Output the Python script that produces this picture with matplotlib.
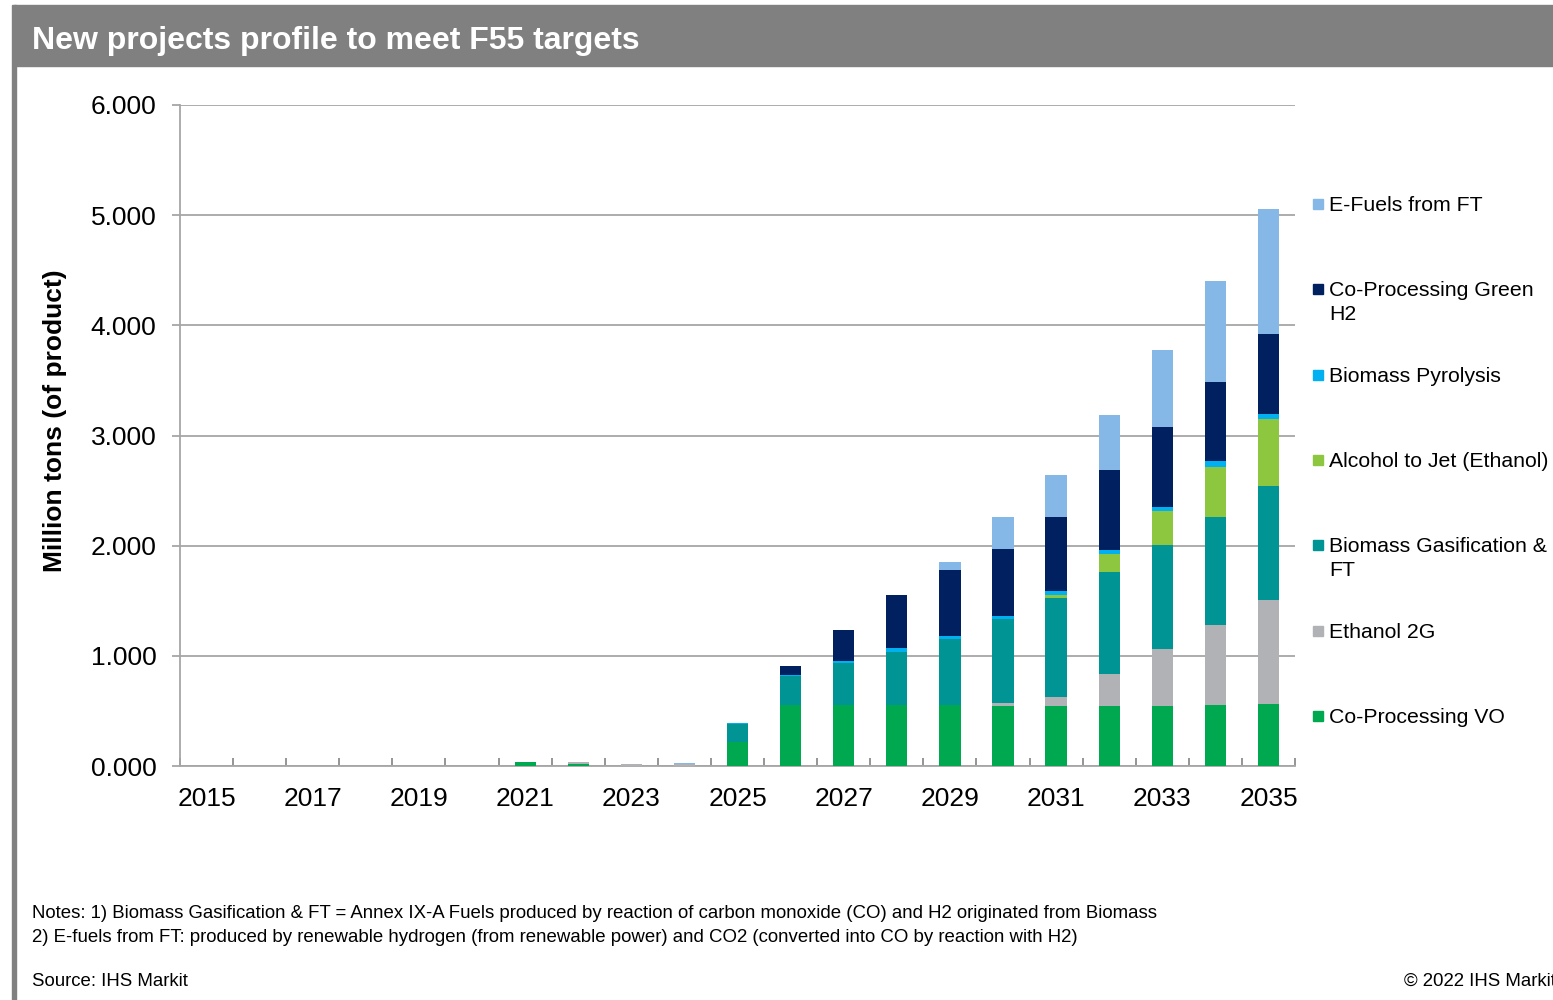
import numpy as np
import matplotlib.pyplot as plt
from matplotlib.patches import Rectangle

plt.rcParams['font.family'] = ['Liberation Sans', 'DejaVu Sans']

years = list(range(2015, 2036))
tick_labels = [str(y) if y % 2 == 1 else '' for y in years]

# Million tons of product, per year 2015..2035
co_processing_vo = [0, 0, 0, 0, 0, 0, 0.034, 0.021, 0, 0, 0.222, 0.551, 0.550, 0.550, 0.550,
                    0.548, 0.548, 0.548, 0.548, 0.554, 0.560]
ethanol_2g = [0, 0, 0, 0, 0, 0, 0, 0.013, 0.022, 0.020, 0, 0, 0, 0, 0,
              0.025, 0.080, 0.287, 0.511, 0.726, 0.947]
biomass_gasification_ft = [0, 0, 0, 0, 0, 0, 0, 0, 0, 0, 0.160, 0.266, 0.382, 0.488, 0.600,
                           0.765, 0.900, 0.926, 0.947, 0.983, 1.037]
alcohol_to_jet = [0, 0, 0, 0, 0, 0, 0, 0, 0, 0, 0, 0, 0, 0, 0,
                  0, 0.024, 0.163, 0.309, 0.454, 0.603]
biomass_pyrolysis = [0, 0, 0, 0, 0, 0, 0, 0, 0, 0, 0.005, 0.012, 0.020, 0.030, 0.027,
                     0.024, 0.036, 0.036, 0.039, 0.051, 0.048]
co_processing_green_h2 = [0, 0, 0, 0, 0, 0, 0, 0, 0, 0, 0, 0.079, 0.280, 0.487, 0.602,
                          0.609, 0.675, 0.726, 0.726, 0.722, 0.729]
e_fuels_ft = [0, 0, 0, 0, 0, 0, 0, 0, 0, 0.006, 0, 0, 0, 0, 0.073,
              0.290, 0.375, 0.500, 0.693, 0.910, 1.132]

series_names = ['Co-Processing VO', 'Ethanol 2G', 'Biomass Gasification &\nFT',
                'Alcohol to Jet (Ethanol)', 'Biomass Pyrolysis',
                'Co-Processing Green\nH2', 'E-Fuels from FT']
series_values = [co_processing_vo, ethanol_2g, biomass_gasification_ft, alcohol_to_jet,
                 biomass_pyrolysis, co_processing_green_h2, e_fuels_ft]
series_colors = ['#00a84f', '#b1b2b5', '#009494', '#8dc63f', '#00b0f0', '#002060', '#85b8e6']

fig = plt.figure(figsize=(15.53, 10), dpi=100)
fig.patch.set_facecolor('white')

# header band and left rule
fig.add_artist(Rectangle((14 / 1553, 1 - 66 / 1000), 1, 61 / 1000,
                         transform=fig.transFigure, color='#7f807f', zorder=0))
fig.add_artist(Rectangle((12 / 1553, 0), 4 / 1553, 1 - 5 / 1000,
                         transform=fig.transFigure, color='#7f807f', zorder=0))
fig.text(32 / 1553, 1 - 41 / 1000, 'New projects profile to meet F55 targets',
         color='white', fontsize=23, fontweight='bold', va='center', ha='left')

ax = fig.add_axes([180 / 1553, 1 - 766 / 1000, (1295 - 180) / 1553, (766 - 105) / 1000])

x = np.arange(len(years))
bottom = np.zeros(len(years))
for name, vals, col in zip(series_names, series_values, series_colors):
    vals = np.asarray(vals, dtype=float)
    ax.bar(x, vals, width=0.4, bottom=bottom, color=col, label=name, zorder=3)
    bottom += vals

ax.set_xlim(-0.5, len(years) - 0.5)
ax.set_ylim(0, 6)
ax.set_yticks(np.arange(0, 7, 1))
ax.set_yticklabels([f'{v:.3f}' for v in np.arange(0, 7, 1)])
ax.yaxis.grid(True, color='#a6a6a6', linewidth=1.3, zorder=0)
ax.set_axisbelow(True)

ax.set_xticks(x)
ax.set_xticklabels(tick_labels)
ax.set_xticks(np.arange(-0.5, len(years), 1), minor=True)
ax.tick_params(axis='x', which='major', length=0, labelsize=19, pad=15)
ax.tick_params(axis='x', which='minor', length=5.5, direction='in', color='#8c8c8c', width=1.3)
ax.tick_params(axis='y', length=6, color='#a6a6a6', width=1.3, labelsize=19, pad=11)

for side in ['top', 'right']:
    ax.spines[side].set_visible(False)
for side in ['left', 'bottom']:
    ax.spines[side].set_color('#a6a6a6')
    ax.spines[side].set_linewidth(1.3)

ax.set_ylabel('Million tons (of product)', fontsize=19, fontweight='bold')
ax.yaxis.set_label_coords(-0.101, 0.523)

# legend drawn by hand so each square sits on the first text line
legend_y = [716, 631, 545, 460, 375, 289, 204]
for name, col, yp in zip(series_names, series_colors, legend_y):
    fig.add_artist(Rectangle((1313 / 1553, 1 - (yp + 5) / 1000), 10 / 1553, 10 / 1000,
                             transform=fig.transFigure, color=col))
    fig.text(1329 / 1553, 1 - (yp - 8) / 1000, name, fontsize=15.3, va='top', ha='left',
             linespacing=1.35)

note_size = 13.4
fig.text(32 / 1553, 1 - 914 / 1000,
         'Notes: 1) Biomass Gasification & FT = Annex IX-A Fuels produced by reaction of '
         'carbon monoxide (CO) and H2 originated from Biomass',
         fontsize=note_size, va='center', ha='left')
fig.text(32 / 1553, 1 - 937 / 1000,
         '2) E-fuels from FT: produced by renewable hydrogen (from renewable power) and CO2 '
         '(converted into CO by reaction with H2)',
         fontsize=note_size, va='center', ha='left')
fig.text(32 / 1553, 1 - 981 / 1000, 'Source: IHS Markit', fontsize=note_size,
         va='center', ha='left')
fig.text(1404 / 1553, 1 - 981 / 1000, '\u00a9 2022 IHS Markit', fontsize=note_size,
         va='center', ha='left')

fig.savefig('out.png', dpi=100)
